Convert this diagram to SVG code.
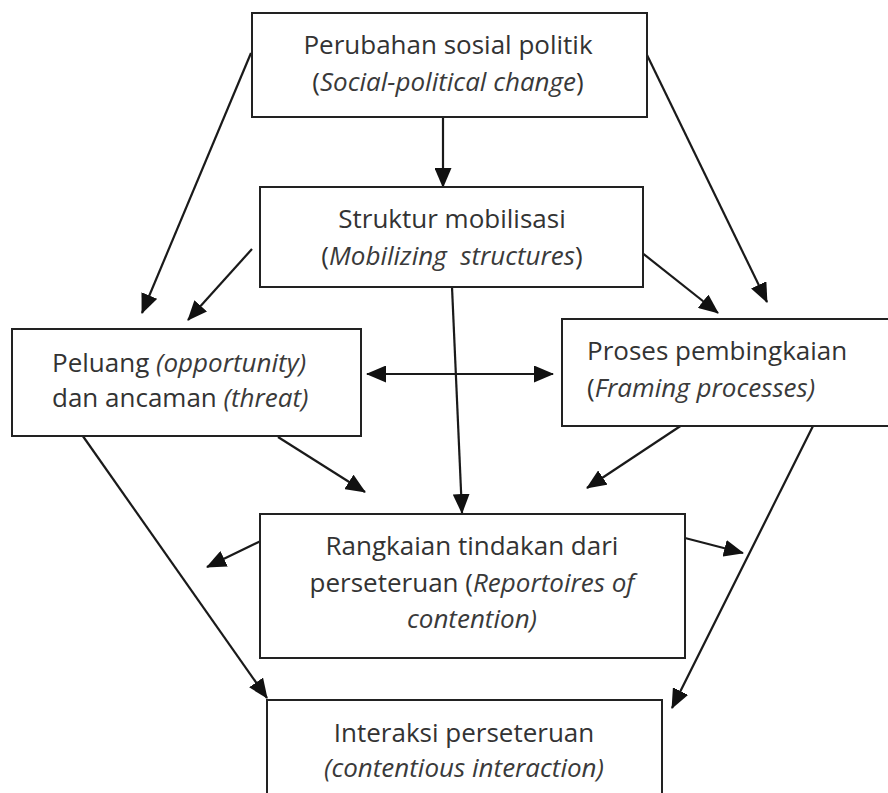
<svg xmlns="http://www.w3.org/2000/svg" width="888" height="793" viewBox="0 0 888 793">
<defs>
<style>
.box{fill:#fff;stroke:#222;stroke-width:2}
.t{font-family:"Open Sans","Noto Sans","Liberation Sans",sans-serif;font-size:26px;fill:#333;white-space:pre}
.c{text-anchor:middle}
.i{font-style:italic;fill:#3a3a3a}
.ln{fill:none;stroke:#1a1a1a;stroke-width:2.2;marker-end:url(#ah)}
.dbl{marker-start:url(#ah)}
</style>
<marker id="ah" markerUnits="userSpaceOnUse" markerWidth="20" markerHeight="17" refX="19" refY="8.5" orient="auto-start-reverse" viewBox="0 0 20 17">
<path d="M0,0 L20,8.5 L0,17 z" fill="#111"/>
</marker>
</defs>
<rect width="888" height="793" fill="#fff"/>
<g id="connectors">
<line class="ln" x1="443" y1="117" x2="443" y2="187"/>
<line class="ln" x1="251" y1="53" x2="142" y2="313"/>
<line class="ln" x1="647" y1="55" x2="767" y2="302"/>
<line class="ln" x1="252" y1="249" x2="188" y2="320"/>
<line class="ln" x1="636" y1="248" x2="718" y2="313"/>
<line class="ln" x1="452" y1="287" x2="462" y2="513"/>
<line class="ln dbl" x1="367" y1="374" x2="553" y2="374"/>
<line class="ln" x1="278" y1="437" x2="365" y2="492"/>
<line class="ln" x1="685" y1="423" x2="587" y2="488"/>
<line class="ln" x1="80" y1="432" x2="267" y2="698"/>
<line class="ln" x1="815" y1="422" x2="672" y2="708"/>
<line class="ln" x1="267" y1="538" x2="207" y2="567"/>
<line class="ln" x1="685" y1="538" x2="743" y2="553"/>
</g>
<g id="node-perubahan">
<rect class="box" x="252" y="13" width="395" height="104"/>
<text class="t c" x="448" y="54">Perubahan sosial politik</text>
<text class="t c" x="448" y="91">(<tspan class="i">Social-political change</tspan>)</text>
</g>
<g id="node-struktur">
<rect class="box" x="260" y="187" width="383" height="100"/>
<text class="t c" x="452" y="228">Struktur mobilisasi</text>
<text class="t c" x="452" y="265">(<tspan class="i">Mobilizing  structures</tspan>)</text>
</g>
<g id="node-peluang">
<rect class="box" x="12" y="329" width="349" height="107"/>
<text class="t" x="52" y="372">Peluang <tspan class="i">(opportunity)</tspan></text>
<text class="t" x="52" y="407">dan ancaman <tspan class="i">(threat)</tspan></text>
</g>
<g id="node-proses">
<rect class="box" x="562" y="319" width="340" height="107"/>
<text class="t" x="587" y="360">Proses pembingkaian</text>
<text class="t" x="587" y="397">(<tspan class="i">Framing processes)</tspan></text>
</g>
<g id="node-rangkaian">
<rect class="box" x="260" y="514" width="425" height="144"/>
<text class="t c" x="472" y="555">Rangkaian tindakan dari</text>
<text class="t c" x="472" y="592">perseteruan (<tspan class="i">Reportoires of</tspan></text>
<text class="t c i" x="472" y="628">contention)</text>
</g>
<g id="node-interaksi">
<rect class="box" x="267" y="700" width="395" height="110"/>
<text class="t c" x="464" y="742">Interaksi perseteruan</text>
<text class="t c i" x="464" y="777">(contentious interaction)</text>
</g>
</svg>
